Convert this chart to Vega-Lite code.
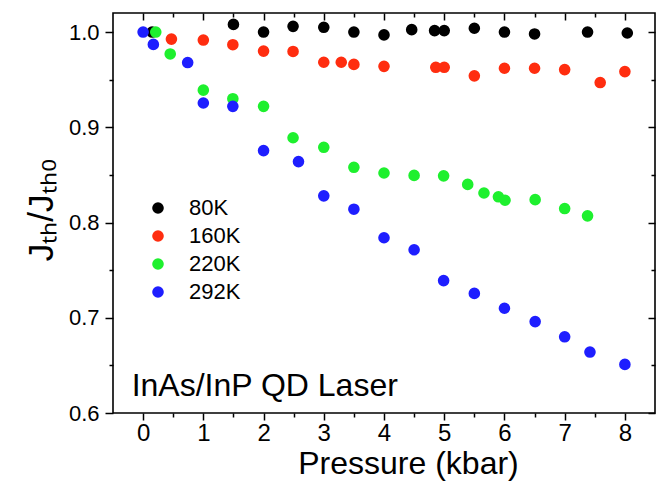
{
  "$schema": "https://vega.github.io/schema/vega-lite/v6.json",
  "width": 542,
  "height": 400,
  "autosize": {"type": "none"},
  "padding": {"left": 113, "top": 13, "right": 13, "bottom": 70},
  "background": "white",
  "config": {
    "view": {"stroke": "black", "strokeWidth": 1.6},
    "font": "Liberation Sans",
    "axis": {"grid": false, "domain": false, "tickColor": "black", "tickWidth": 1.5, "labelColor": "black", "titleColor": "black", "labelFont": "Liberation Sans", "titleFont": "Liberation Sans", "titleFontWeight": "normal"}
  },
  "datasets": {
    "pts": [
      {"T": "80K", "p": 0.15, "j": 1.0},
      {"T": "80K", "p": 1.5, "j": 1.008},
      {"T": "80K", "p": 2.0, "j": 1.0},
      {"T": "80K", "p": 2.49, "j": 1.006},
      {"T": "80K", "p": 3.0, "j": 1.005},
      {"T": "80K", "p": 3.5, "j": 1.0},
      {"T": "80K", "p": 4.0, "j": 0.997},
      {"T": "80K", "p": 4.46, "j": 1.0025},
      {"T": "80K", "p": 4.84, "j": 1.0015},
      {"T": "80K", "p": 5.0, "j": 1.0015},
      {"T": "80K", "p": 5.5, "j": 1.004},
      {"T": "80K", "p": 6.0, "j": 1.0},
      {"T": "80K", "p": 6.5, "j": 0.998},
      {"T": "80K", "p": 7.38, "j": 1.0},
      {"T": "80K", "p": 8.04, "j": 0.999},
      {"T": "160K", "p": 0.47, "j": 0.9926},
      {"T": "160K", "p": 1.0, "j": 0.9916},
      {"T": "160K", "p": 1.49, "j": 0.9867},
      {"T": "160K", "p": 2.0, "j": 0.980},
      {"T": "160K", "p": 2.49, "j": 0.9796},
      {"T": "160K", "p": 3.0, "j": 0.9683},
      {"T": "160K", "p": 3.29, "j": 0.9683},
      {"T": "160K", "p": 3.5, "j": 0.966},
      {"T": "160K", "p": 4.0, "j": 0.964},
      {"T": "160K", "p": 4.86, "j": 0.963},
      {"T": "160K", "p": 5.0, "j": 0.963},
      {"T": "160K", "p": 5.5, "j": 0.954},
      {"T": "160K", "p": 6.0, "j": 0.962},
      {"T": "160K", "p": 6.5, "j": 0.962},
      {"T": "160K", "p": 7.0, "j": 0.9606},
      {"T": "160K", "p": 7.59, "j": 0.947},
      {"T": "160K", "p": 8.0, "j": 0.9585},
      {"T": "220K", "p": 0.21, "j": 1.0},
      {"T": "220K", "p": 0.45, "j": 0.977},
      {"T": "220K", "p": 1.0, "j": 0.939},
      {"T": "220K", "p": 1.49, "j": 0.930},
      {"T": "220K", "p": 2.0, "j": 0.922},
      {"T": "220K", "p": 2.49, "j": 0.889},
      {"T": "220K", "p": 3.0, "j": 0.879},
      {"T": "220K", "p": 3.5, "j": 0.858},
      {"T": "220K", "p": 4.0, "j": 0.852},
      {"T": "220K", "p": 4.5, "j": 0.8495},
      {"T": "220K", "p": 4.99, "j": 0.849},
      {"T": "220K", "p": 5.39, "j": 0.840},
      {"T": "220K", "p": 5.66, "j": 0.831},
      {"T": "220K", "p": 5.9, "j": 0.827},
      {"T": "220K", "p": 6.01, "j": 0.8234},
      {"T": "220K", "p": 6.51, "j": 0.824},
      {"T": "220K", "p": 7.0, "j": 0.8147},
      {"T": "220K", "p": 7.38, "j": 0.807},
      {"T": "292K", "p": 0.0, "j": 1.0},
      {"T": "292K", "p": 0.17, "j": 0.987},
      {"T": "292K", "p": 0.74, "j": 0.968},
      {"T": "292K", "p": 1.0, "j": 0.9255},
      {"T": "292K", "p": 1.49, "j": 0.922},
      {"T": "292K", "p": 2.0, "j": 0.8755},
      {"T": "292K", "p": 2.58, "j": 0.864},
      {"T": "292K", "p": 3.0, "j": 0.828},
      {"T": "292K", "p": 3.5, "j": 0.814},
      {"T": "292K", "p": 4.0, "j": 0.784},
      {"T": "292K", "p": 4.5, "j": 0.7714},
      {"T": "292K", "p": 4.99, "j": 0.739},
      {"T": "292K", "p": 5.5, "j": 0.7256},
      {"T": "292K", "p": 6.0, "j": 0.710},
      {"T": "292K", "p": 6.51, "j": 0.696},
      {"T": "292K", "p": 7.0, "j": 0.680},
      {"T": "292K", "p": 7.42, "j": 0.664},
      {"T": "292K", "p": 8.0, "j": 0.651}
    ],
    "note": [
      {"p": -0.19, "j": 0.6182, "label": "InAs/InP QD Laser"}
    ]
  },
  "layer": [
    {
      "data": {"name": "pts"},
      "mark": {"type": "circle", "size": 135, "opacity": 1},
      "encoding": {
        "x": {"field": "p", "type": "quantitative", "scale": {"domain": [-0.5, 8.5], "nice": false, "zero": false},
          "axis": {"orient": "bottom", "values": [0, 1, 2, 3, 4, 5, 6, 7, 8], "tickSize": 7, "labelFontSize": 24, "labelPadding": 1, "labelFlush": false,
            "title": "Pressure (kbar)", "titleFontSize": 32, "titleX": 295, "titleY": 60, "titleBaseline": "alphabetic", "titleAlign": "center"}},
        "y": {"field": "j", "type": "quantitative", "scale": {"domain": [0.6, 1.02], "nice": false, "zero": false},
          "axis": {"orient": "left", "values": [0.6, 0.7, 0.8, 0.9, 1.0], "format": ".1f", "tickSize": 8, "labelFontSize": 22, "labelPadding": 6, "labelFlush": false,
            "title": "Jₜₕ/Jₜₕ₀", "titleFontSize": 35, "titleX": -61, "titleY": 196, "titleAngle": 270, "titleAlign": "center", "titleBaseline": "alphabetic"}},
        "color": {"field": "T", "type": "nominal", "sort": ["80K", "160K", "220K", "292K"],
          "scale": {"domain": ["80K", "160K", "220K", "292K"], "range": ["#000000", "#FF2D0F", "#1EF02E", "#1E1EFF"]},
          "legend": {"orient": "none", "legendX": 34, "legendY": 184, "title": null, "symbolType": "circle", "symbolSize": 135, "symbolOpacity": 1,
            "labelFontSize": 22, "labelFont": "Liberation Sans", "labelColor": "black", "labelOffset": 20, "rowPadding": 6, "padding": 0}}
      }
    },
    {
      "data": {"name": "pts"},
      "mark": {"type": "point", "opacity": 0},
      "encoding": {
        "x": {"field": "p", "type": "quantitative", "axis": {"orient": "bottom", "values": [0.5, 1.5, 2.5, 3.5, 4.5, 5.5, 6.5, 7.5], "tickSize": 4, "labels": false, "title": null}},
        "y": {"field": "j", "type": "quantitative", "axis": {"orient": "left", "values": [0.65, 0.75, 0.85, 0.95], "tickSize": 4, "labels": false, "title": null}}
      }
    },
    {
      "data": {"name": "pts"},
      "mark": {"type": "point", "opacity": 0},
      "encoding": {
        "x": {"field": "p", "type": "quantitative", "axis": {"orient": "top", "values": [0, 1, 2, 3, 4, 5, 6, 7, 8], "tickSize": -7, "labels": false, "title": null}},
        "y": {"field": "j", "type": "quantitative", "axis": {"orient": "right", "values": [0.6, 0.7, 0.8, 0.9, 1.0], "tickSize": -7, "labels": false, "title": null}}
      }
    },
    {
      "data": {"name": "pts"},
      "mark": {"type": "point", "opacity": 0},
      "encoding": {
        "x": {"field": "p", "type": "quantitative", "axis": {"orient": "top", "values": [0.5, 1.5, 2.5, 3.5, 4.5, 5.5, 6.5, 7.5], "tickSize": -4, "labels": false, "title": null}},
        "y": {"field": "j", "type": "quantitative", "axis": {"orient": "right", "values": [0.65, 0.75, 0.85, 0.95], "tickSize": -4, "labels": false, "title": null}}
      }
    },
    {
      "data": {"name": "note"},
      "mark": {"type": "text", "align": "left", "baseline": "alphabetic", "fontSize": 32, "font": "Liberation Sans", "color": "black"},
      "encoding": {
        "x": {"field": "p", "type": "quantitative", "axis": null},
        "y": {"field": "j", "type": "quantitative", "axis": null},
        "text": {"field": "label"}
      }
    }
  ],
  "resolve": {"axis": {"x": "independent", "y": "independent"}}
}
